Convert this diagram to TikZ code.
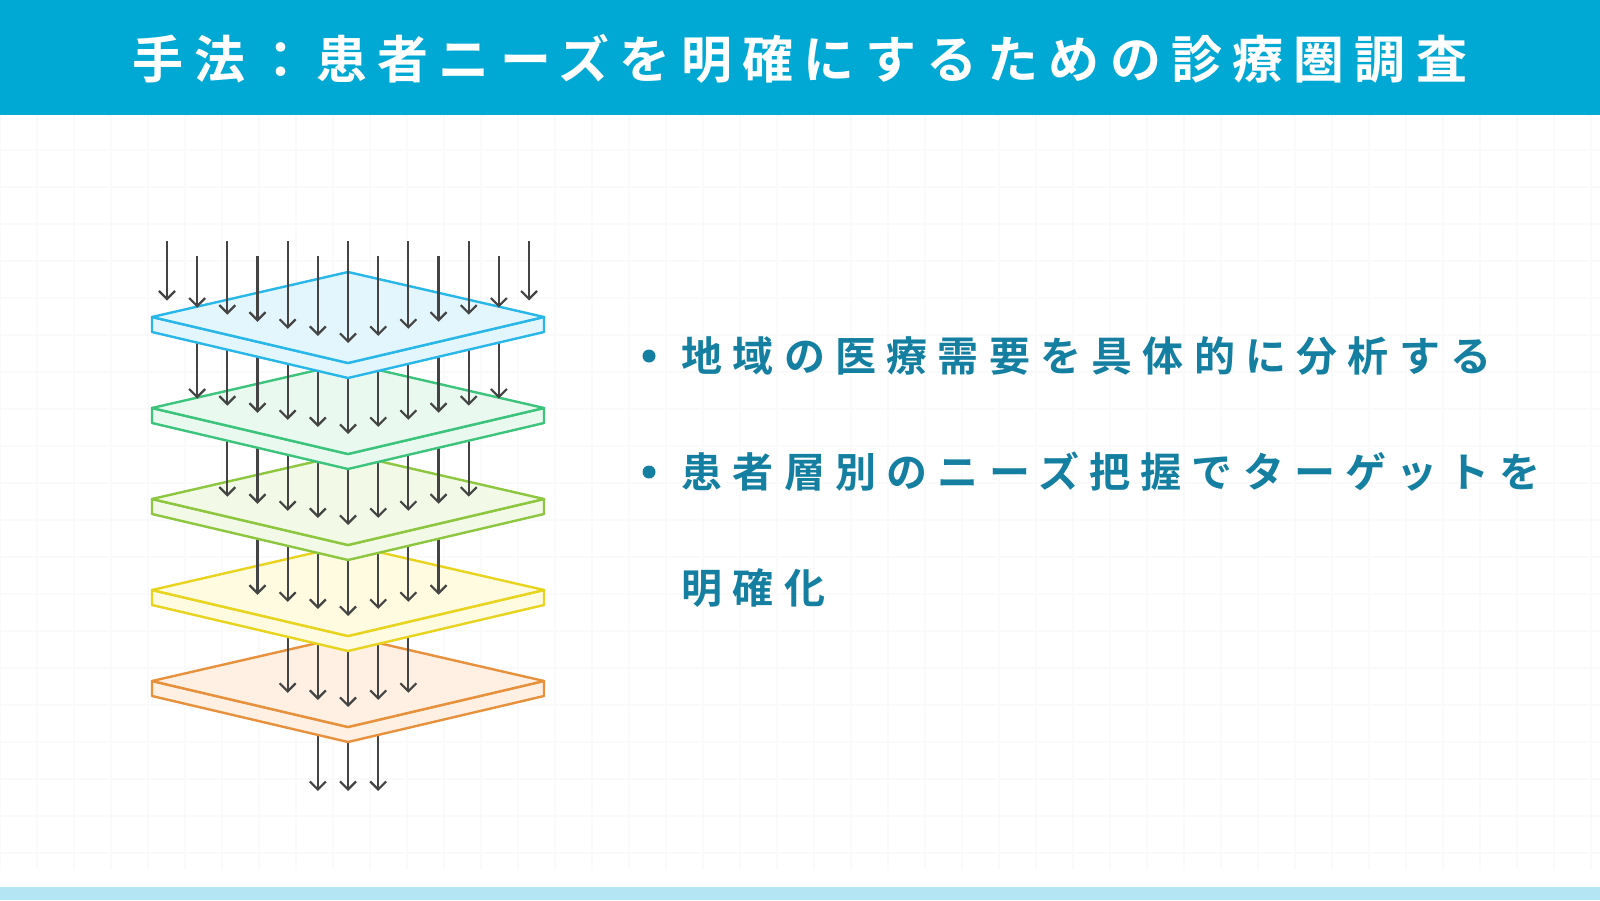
\documentclass[tikz,border=0pt]{standalone}
\usepackage{fontspec}
\newfontfamily\jpbold[LetterSpace=20]{Noto Sans CJK JP Bold}
\newfontfamily\jptext[LetterSpace=25]{Noto Sans CJK JP Bold}
\usetikzlibrary{arrows.meta,calc}
\definecolor{barblue}{HTML}{00A8D4}
\definecolor{stripblue}{HTML}{B3E5F3}
\definecolor{textblue}{HTML}{147FA0}
\definecolor{gridgray}{HTML}{FAFAFA}
\definecolor{arrowgray}{HTML}{444444}
\tikzset{
  flow/.style={draw=arrowgray, line width=2.2pt, -{Straight Barb[length=8pt,width=16pt]}},
  bullettext/.style={anchor=west, text=textblue, font=\jptext\fontsize{41}{41}\selectfont},
}
% one plate: #1 centre front y, #2 stroke, #3 fill
\newcommand{\plate}[3]{%
  \filldraw[draw=#2, fill=#3, line width=2.4pt, line join=round]
    (152,-#1+46) -- (348,-#1) -- (544,-#1+46) -- (544,-#1+31) -- (348,-#1-15) -- (152,-#1+31) -- cycle;
  \filldraw[draw=#2, fill=#3, line width=2.4pt, line join=round]
    (152,-#1+46) -- (348,-#1+91) -- (544,-#1+46) -- (348,-#1) -- cycle;
}
\begin{document}
\begin{tikzpicture}[x=1pt,y=1pt]
  \useasboundingbox (0,0) rectangle (1600,-900);
  \fill[white] (0,0) rectangle (1600,-900);
  % faint grid
  \foreach \gx in {0,37,...,1600} \draw[gridgray, line width=1.5pt] (\gx,-115) -- (\gx,-870);
  \foreach \gy in {150,187,...,870} \draw[gridgray, line width=1.5pt] (0,-\gy) -- (1600,-\gy);
  \fill[barblue] (0,0) rectangle (1600,-115);
  \fill[stripblue] (0,-887) rectangle (1600,-900);
  \node (title) at (800,-59) {\color{white}\jpbold\fontsize{51}{51}\selectfont 手法：患者ニーズを明確にするための診療圏調査};

  % plates from bottom to top, arrows into each plate
  \foreach \k/\sc/\fc/\lo/\hi in {4/E8913C/FFF0E3/5/9, 3/E8D31F/FFFBE0/4/10, 2/8DC63F/F2F9E6/3/11, 1/3CC47C/E9F9EF/2/12, 0/29B6E8/E3F6FD/1/13}{
    \pgfmathsetmacro{\fy}{363+91*\k}
    \ifnum\k=4
      \foreach \c in {6,7,8}{
        \pgfmathsetmacro{\cx}{167+30.17*(\c-1)}
        \pgfmathsetmacro{\dy}{46*abs(\cx-348)/196}
        \draw[flow] (\cx,-\fy-15+\dy) -- (\cx,-791);
      }
    \fi
    \definecolor{sc}{HTML}{\sc}\definecolor{fc}{HTML}{\fc}
    \plate{\fy}{sc}{fc}
    \foreach \c in {\lo,...,\hi}{
      \pgfmathsetmacro{\cx}{167+30.17*(\c-1)}
      \pgfmathsetmacro{\dy}{46*abs(\cx-348)/196}
      \ifnum\k=0
        \pgfmathsetmacro{\sy}{isodd(\c) ? 241 : 256}
      \else
        \pgfmathsetmacro{\sy}{\fy-91+15-\dy}
      \fi
      \draw[flow] (\cx,-\sy) -- (\cx,-\fy+20+\dy);
    }
  }

  % bullets
  \fill[textblue] (649,-356) circle (6.5);
  \node[bullettext] (b1) at (678,-356) {地域の医療需要を具体的に分析する};
  \fill[textblue] (649,-472) circle (6.5);
  \node[bullettext] (b2) at (678,-472) {患者層別のニーズ把握でターゲットを};
  \node[bullettext] (b3) at (678,-588) {明確化};
\end{tikzpicture}
\end{document}
